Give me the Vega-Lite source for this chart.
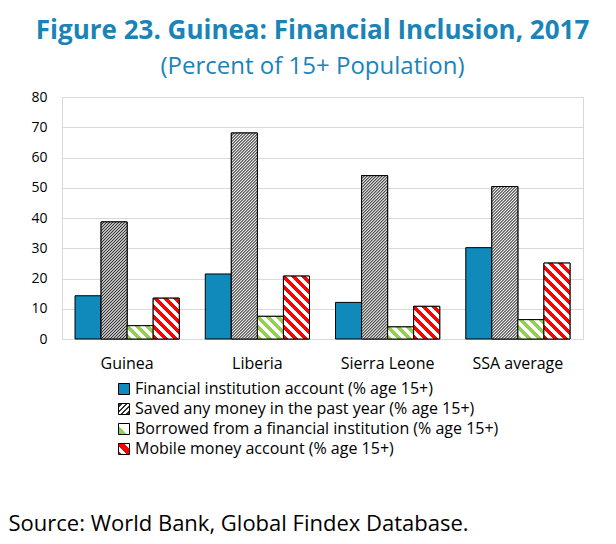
{
  "$schema": "https://vega.github.io/schema/vega-lite/v6.json",
  "width": 521,
  "height": 242,
  "autosize": {"type": "none"},
  "padding": {"left": 62, "top": 97, "right": 33, "bottom": 205},
  "background": "white",
  "params": [
    {"name": "savedStops", "value": [
      {"offset":0,"color":"#333"},{"offset":0.005,"color":"#fff"},{"offset":0.01,"color":"#333"},{"offset":0.015,"color":"#fff"},{"offset":0.02,"color":"#333"},{"offset":0.025,"color":"#fff"},{"offset":0.03,"color":"#333"},{"offset":0.035,"color":"#fff"},{"offset":0.04,"color":"#333"},{"offset":0.045,"color":"#fff"},
      {"offset":0.05,"color":"#333"},{"offset":0.055,"color":"#fff"},{"offset":0.06,"color":"#333"},{"offset":0.065,"color":"#fff"},{"offset":0.07,"color":"#333"},{"offset":0.075,"color":"#fff"},{"offset":0.08,"color":"#333"},{"offset":0.085,"color":"#fff"},{"offset":0.09,"color":"#333"},{"offset":0.095,"color":"#fff"},
      {"offset":0.1,"color":"#333"},{"offset":0.105,"color":"#fff"},{"offset":0.11,"color":"#333"},{"offset":0.115,"color":"#fff"},{"offset":0.12,"color":"#333"},{"offset":0.125,"color":"#fff"},{"offset":0.13,"color":"#333"},{"offset":0.135,"color":"#fff"},{"offset":0.14,"color":"#333"},{"offset":0.145,"color":"#fff"},
      {"offset":0.15,"color":"#333"},{"offset":0.155,"color":"#fff"},{"offset":0.16,"color":"#333"},{"offset":0.165,"color":"#fff"},{"offset":0.17,"color":"#333"},{"offset":0.175,"color":"#fff"},{"offset":0.18,"color":"#333"},{"offset":0.185,"color":"#fff"},{"offset":0.19,"color":"#333"},{"offset":0.195,"color":"#fff"},
      {"offset":0.2,"color":"#333"},{"offset":0.205,"color":"#fff"},{"offset":0.21,"color":"#333"},{"offset":0.215,"color":"#fff"},{"offset":0.22,"color":"#333"},{"offset":0.225,"color":"#fff"},{"offset":0.23,"color":"#333"},{"offset":0.235,"color":"#fff"},{"offset":0.24,"color":"#333"},{"offset":0.245,"color":"#fff"},
      {"offset":0.25,"color":"#333"},{"offset":0.255,"color":"#fff"},{"offset":0.26,"color":"#333"},{"offset":0.265,"color":"#fff"},{"offset":0.27,"color":"#333"},{"offset":0.275,"color":"#fff"},{"offset":0.28,"color":"#333"},{"offset":0.285,"color":"#fff"},{"offset":0.29,"color":"#333"},{"offset":0.295,"color":"#fff"},
      {"offset":0.3,"color":"#333"},{"offset":0.305,"color":"#fff"},{"offset":0.31,"color":"#333"},{"offset":0.315,"color":"#fff"},{"offset":0.32,"color":"#333"},{"offset":0.325,"color":"#fff"},{"offset":0.33,"color":"#333"},{"offset":0.335,"color":"#fff"},{"offset":0.34,"color":"#333"},{"offset":0.345,"color":"#fff"},
      {"offset":0.35,"color":"#333"},{"offset":0.355,"color":"#fff"},{"offset":0.36,"color":"#333"},{"offset":0.365,"color":"#fff"},{"offset":0.37,"color":"#333"},{"offset":0.375,"color":"#fff"},{"offset":0.38,"color":"#333"},{"offset":0.385,"color":"#fff"},{"offset":0.39,"color":"#333"},{"offset":0.395,"color":"#fff"},
      {"offset":0.4,"color":"#333"},{"offset":0.405,"color":"#fff"},{"offset":0.41,"color":"#333"},{"offset":0.415,"color":"#fff"},{"offset":0.42,"color":"#333"},{"offset":0.425,"color":"#fff"},{"offset":0.43,"color":"#333"},{"offset":0.435,"color":"#fff"},{"offset":0.44,"color":"#333"},{"offset":0.445,"color":"#fff"},
      {"offset":0.45,"color":"#333"},{"offset":0.455,"color":"#fff"},{"offset":0.46,"color":"#333"},{"offset":0.465,"color":"#fff"},{"offset":0.47,"color":"#333"},{"offset":0.475,"color":"#fff"},{"offset":0.48,"color":"#333"},{"offset":0.485,"color":"#fff"},{"offset":0.49,"color":"#333"},{"offset":0.495,"color":"#fff"},
      {"offset":0.5,"color":"#333"},{"offset":0.505,"color":"#fff"},{"offset":0.51,"color":"#333"},{"offset":0.515,"color":"#fff"},{"offset":0.52,"color":"#333"},{"offset":0.525,"color":"#fff"},{"offset":0.53,"color":"#333"},{"offset":0.535,"color":"#fff"},{"offset":0.54,"color":"#333"},{"offset":0.545,"color":"#fff"},
      {"offset":0.55,"color":"#333"},{"offset":0.555,"color":"#fff"},{"offset":0.56,"color":"#333"},{"offset":0.565,"color":"#fff"},{"offset":0.57,"color":"#333"},{"offset":0.575,"color":"#fff"},{"offset":0.58,"color":"#333"},{"offset":0.585,"color":"#fff"},{"offset":0.59,"color":"#333"},{"offset":0.595,"color":"#fff"},
      {"offset":0.6,"color":"#333"},{"offset":0.605,"color":"#fff"},{"offset":0.61,"color":"#333"},{"offset":0.615,"color":"#fff"},{"offset":0.62,"color":"#333"},{"offset":0.625,"color":"#fff"},{"offset":0.63,"color":"#333"},{"offset":0.635,"color":"#fff"},{"offset":0.64,"color":"#333"},{"offset":0.645,"color":"#fff"},
      {"offset":0.65,"color":"#333"},{"offset":0.655,"color":"#fff"},{"offset":0.66,"color":"#333"},{"offset":0.665,"color":"#fff"},{"offset":0.67,"color":"#333"},{"offset":0.675,"color":"#fff"},{"offset":0.68,"color":"#333"},{"offset":0.685,"color":"#fff"},{"offset":0.69,"color":"#333"},{"offset":0.695,"color":"#fff"},
      {"offset":0.7,"color":"#333"},{"offset":0.705,"color":"#fff"},{"offset":0.71,"color":"#333"},{"offset":0.715,"color":"#fff"},{"offset":0.72,"color":"#333"},{"offset":0.725,"color":"#fff"},{"offset":0.73,"color":"#333"},{"offset":0.735,"color":"#fff"},{"offset":0.74,"color":"#333"},{"offset":0.745,"color":"#fff"},
      {"offset":0.75,"color":"#333"},{"offset":0.755,"color":"#fff"},{"offset":0.76,"color":"#333"},{"offset":0.765,"color":"#fff"},{"offset":0.77,"color":"#333"},{"offset":0.775,"color":"#fff"},{"offset":0.78,"color":"#333"},{"offset":0.785,"color":"#fff"},{"offset":0.79,"color":"#333"},{"offset":0.795,"color":"#fff"},
      {"offset":0.8,"color":"#333"},{"offset":0.805,"color":"#fff"},{"offset":0.81,"color":"#333"},{"offset":0.815,"color":"#fff"},{"offset":0.82,"color":"#333"},{"offset":0.825,"color":"#fff"},{"offset":0.83,"color":"#333"},{"offset":0.835,"color":"#fff"},{"offset":0.84,"color":"#333"},{"offset":0.845,"color":"#fff"},
      {"offset":0.85,"color":"#333"},{"offset":0.855,"color":"#fff"},{"offset":0.86,"color":"#333"},{"offset":0.865,"color":"#fff"},{"offset":0.87,"color":"#333"},{"offset":0.875,"color":"#fff"},{"offset":0.88,"color":"#333"},{"offset":0.885,"color":"#fff"},{"offset":0.89,"color":"#333"},{"offset":0.895,"color":"#fff"},
      {"offset":0.9,"color":"#333"},{"offset":0.905,"color":"#fff"},{"offset":0.91,"color":"#333"},{"offset":0.915,"color":"#fff"},{"offset":0.92,"color":"#333"},{"offset":0.925,"color":"#fff"},{"offset":0.93,"color":"#333"},{"offset":0.935,"color":"#fff"},{"offset":0.94,"color":"#333"},{"offset":0.945,"color":"#fff"},
      {"offset":0.95,"color":"#333"},{"offset":0.955,"color":"#fff"},{"offset":0.96,"color":"#333"},{"offset":0.965,"color":"#fff"},{"offset":0.97,"color":"#333"},{"offset":0.975,"color":"#fff"},{"offset":0.98,"color":"#333"},{"offset":0.985,"color":"#fff"},{"offset":0.99,"color":"#333"},{"offset":0.995,"color":"#fff"},
      {"offset":1,"color":"#333"}
    ]},
    {"name": "greenStops", "value": [
      {"offset":0,"color":"#92d050"},{"offset":0.05,"color":"#92d050"},{"offset":0.05,"color":"#fff"},{"offset":0.1,"color":"#fff"},
      {"offset":0.1,"color":"#92d050"},{"offset":0.15,"color":"#92d050"},{"offset":0.15,"color":"#fff"},{"offset":0.2,"color":"#fff"},
      {"offset":0.2,"color":"#92d050"},{"offset":0.25,"color":"#92d050"},{"offset":0.25,"color":"#fff"},{"offset":0.3,"color":"#fff"},
      {"offset":0.3,"color":"#92d050"},{"offset":0.35,"color":"#92d050"},{"offset":0.35,"color":"#fff"},{"offset":0.4,"color":"#fff"},
      {"offset":0.4,"color":"#92d050"},{"offset":0.45,"color":"#92d050"},{"offset":0.45,"color":"#fff"},{"offset":0.5,"color":"#fff"},
      {"offset":0.5,"color":"#92d050"},{"offset":0.55,"color":"#92d050"},{"offset":0.55,"color":"#fff"},{"offset":0.6,"color":"#fff"},
      {"offset":0.6,"color":"#92d050"},{"offset":0.65,"color":"#92d050"},{"offset":0.65,"color":"#fff"},{"offset":0.7,"color":"#fff"},
      {"offset":0.7,"color":"#92d050"},{"offset":0.75,"color":"#92d050"},{"offset":0.75,"color":"#fff"},{"offset":0.8,"color":"#fff"},
      {"offset":0.8,"color":"#92d050"},{"offset":0.85,"color":"#92d050"},{"offset":0.85,"color":"#fff"},{"offset":0.9,"color":"#fff"},
      {"offset":0.9,"color":"#92d050"},{"offset":0.95,"color":"#92d050"},{"offset":0.95,"color":"#fff"},{"offset":1,"color":"#fff"}
    ]},
    {"name": "redStops", "value": [
      {"offset":0,"color":"#f00"},{"offset":0.05,"color":"#f00"},{"offset":0.05,"color":"#fff"},{"offset":0.1,"color":"#fff"},
      {"offset":0.1,"color":"#f00"},{"offset":0.15,"color":"#f00"},{"offset":0.15,"color":"#fff"},{"offset":0.2,"color":"#fff"},
      {"offset":0.2,"color":"#f00"},{"offset":0.25,"color":"#f00"},{"offset":0.25,"color":"#fff"},{"offset":0.3,"color":"#fff"},
      {"offset":0.3,"color":"#f00"},{"offset":0.35,"color":"#f00"},{"offset":0.35,"color":"#fff"},{"offset":0.4,"color":"#fff"},
      {"offset":0.4,"color":"#f00"},{"offset":0.45,"color":"#f00"},{"offset":0.45,"color":"#fff"},{"offset":0.5,"color":"#fff"},
      {"offset":0.5,"color":"#f00"},{"offset":0.55,"color":"#f00"},{"offset":0.55,"color":"#fff"},{"offset":0.6,"color":"#fff"},
      {"offset":0.6,"color":"#f00"},{"offset":0.65,"color":"#f00"},{"offset":0.65,"color":"#fff"},{"offset":0.7,"color":"#fff"},
      {"offset":0.7,"color":"#f00"},{"offset":0.75,"color":"#f00"},{"offset":0.75,"color":"#fff"},{"offset":0.8,"color":"#fff"},
      {"offset":0.8,"color":"#f00"},{"offset":0.85,"color":"#f00"},{"offset":0.85,"color":"#fff"},{"offset":0.9,"color":"#fff"},
      {"offset":0.9,"color":"#f00"},{"offset":0.95,"color":"#f00"},{"offset":0.95,"color":"#fff"},{"offset":1,"color":"#fff"}
    ]}
  ],
  "title": {
    "text": "Figure 23. Guinea: Financial Inclusion, 2017",
    "subtitle": "(Percent of 15+ Population)",
    "anchor": "middle",
    "frame": "group",
    "dx": -10,
    "offset": 11,
    "font": "Open Sans",
    "fontSize": 26,
    "fontWeight": "bold",
    "color": "#1a84b8",
    "subtitleFont": "Open Sans",
    "subtitleFontSize": 24,
    "subtitleColor": "#1a84b8",
    "subtitlePadding": 11
  },
  "config": {
    "view": {"stroke": "#d9d9d9", "strokeWidth": 1}
  },
  "data": {
    "values": [
      {"country": "Guinea", "series": "Financial institution account (% age 15+)", "value": 14.3},
      {"country": "Guinea", "series": "Saved any money in the past year (% age 15+)", "value": 38.7},
      {"country": "Guinea", "series": "Borrowed from a financial institution (% age 15+)", "value": 4.4},
      {"country": "Guinea", "series": "Mobile money account (% age 15+)", "value": 13.5},
      {"country": "Liberia", "series": "Financial institution account (% age 15+)", "value": 21.5},
      {"country": "Liberia", "series": "Saved any money in the past year (% age 15+)", "value": 68.1},
      {"country": "Liberia", "series": "Borrowed from a financial institution (% age 15+)", "value": 7.5},
      {"country": "Liberia", "series": "Mobile money account (% age 15+)", "value": 20.8},
      {"country": "Sierra Leone", "series": "Financial institution account (% age 15+)", "value": 12.1},
      {"country": "Sierra Leone", "series": "Saved any money in the past year (% age 15+)", "value": 54.0},
      {"country": "Sierra Leone", "series": "Borrowed from a financial institution (% age 15+)", "value": 4.0},
      {"country": "Sierra Leone", "series": "Mobile money account (% age 15+)", "value": 10.8},
      {"country": "SSA average", "series": "Financial institution account (% age 15+)", "value": 30.2},
      {"country": "SSA average", "series": "Saved any money in the past year (% age 15+)", "value": 50.4},
      {"country": "SSA average", "series": "Borrowed from a financial institution (% age 15+)", "value": 6.4},
      {"country": "SSA average", "series": "Mobile money account (% age 15+)", "value": 25.1}
    ]
  },
  "encoding": {
    "x": {
      "field": "country", "type": "nominal", "sort": null,
      "scale": {"paddingInner": 0.2, "paddingOuter": 0.1},
      "axis": {
        "domain": false, "ticks": false, "labelAngle": 0, "labelPadding": 16,
        "labelFont": "Open Sans", "labelFontSize": 16, "labelColor": "#000",
        "title": "Source: World Bank, Global Findex Database.",
        "titleFont": "Open Sans", "titleFontSize": 22, "titleFontWeight": "normal", "titleColor": "#000",
        "titleAlign": "left", "titleAnchor": "start", "titleX": -54, "titleY": 191, "titleBaseline": "alphabetic"
      }
    },
    "xOffset": {
      "field": "series", "type": "nominal", "sort": null,
      "scale": {"domain": ["Financial institution account (% age 15+)", "Saved any money in the past year (% age 15+)", "Borrowed from a financial institution (% age 15+)", "Mobile money account (% age 15+)"], "paddingInner": 0, "paddingOuter": 0}
    },
    "y": {
      "field": "value", "type": "quantitative",
      "scale": {"domain": [0, 80], "nice": false},
      "axis": {
        "values": [0, 10, 20, 30, 40, 50, 60, 70, 80],
        "grid": true, "gridColor": "#d9d9d9", "gridWidth": 1,
        "domain": false, "ticks": false, "labelPadding": 15,
        "labelFont": "Open Sans", "labelFontSize": 14, "labelColor": "#000",
        "title": null
      }
    }
  },
  "layer": [
    {
      "mark": {"type": "bar", "stroke": "#000", "strokeWidth": 1},
      "encoding": {
        "fill": {
          "field": "series", "type": "nominal", "sort": null,
          "scale": {
            "domain": ["Financial institution account (% age 15+)", "Saved any money in the past year (% age 15+)", "Borrowed from a financial institution (% age 15+)", "Mobile money account (% age 15+)"],
            "range": [
              "#108aba",
              {"expr": "{gradient:'linear',x1:0,y1:0,x2:1,y2:1,stops:[{offset:0,color:'#333'},{offset:0.22,color:'#333'},{offset:0.22,color:'#fff'},{offset:0.32,color:'#fff'},{offset:0.32,color:'#333'},{offset:0.45,color:'#333'},{offset:0.45,color:'#fff'},{offset:0.55,color:'#fff'},{offset:0.55,color:'#333'},{offset:0.68,color:'#333'},{offset:0.68,color:'#fff'},{offset:0.78,color:'#fff'},{offset:0.78,color:'#333'},{offset:1,color:'#333'}]}"},
              {"expr": "{gradient:'linear',x1:0,y1:1,x2:1,y2:0,stops:[{offset:0,color:'#92d050'},{offset:0.4,color:'#92d050'},{offset:0.4,color:'#fff'},{offset:1,color:'#fff'}]}"},
              {"expr": "{gradient:'linear',x1:0,y1:1,x2:1,y2:0,stops:[{offset:0,color:'#f00'},{offset:0.15,color:'#f00'},{offset:0.15,color:'#fff'},{offset:0.4,color:'#fff'},{offset:0.4,color:'#f00'},{offset:0.75,color:'#f00'},{offset:0.75,color:'#fff'},{offset:1,color:'#fff'}]}"}
            ]
          },
          "legend": {
            "orient": "none", "legendX": 54, "legendY": 284, "title": null, "direction": "vertical",
            "symbolType": "square", "symbolSize": 121, "symbolStrokeColor": "#000", "symbolStrokeWidth": 1,
            "labelFont": "Open Sans", "labelFontSize": 16, "labelColor": "#000", "labelOffset": 3,
            "rowPadding": 4, "padding": 0, "labelLimit": 0
          }
        }
      }
    },
    {
      "transform": [{"filter": "datum.series != 'Financial institution account (% age 15+)'"}],
      "mark": {"type": "bar", "stroke": "#000", "strokeWidth": 1},
      "encoding": {
        "fill": {"value": {"expr": "indexof(datum.series,'Saved')==0 ? {gradient:'linear',x1:0,y1:0,x2:300*bandwidth('xOffset')/(pow(bandwidth('xOffset'),2)+pow(scale('y',0)-scale('y',datum.value),2)),y2:300*(scale('y',0)-scale('y',datum.value))/(pow(bandwidth('xOffset'),2)+pow(scale('y',0)-scale('y',datum.value),2)),stops:savedStops} : {gradient:'linear',x1:0,y1:1,x2:100*bandwidth('xOffset')/(pow(bandwidth('xOffset'),2)+pow(scale('y',0)-scale('y',datum.value),2)),y2:1-100*(scale('y',0)-scale('y',datum.value))/(pow(bandwidth('xOffset'),2)+pow(scale('y',0)-scale('y',datum.value),2)),stops:indexof(datum.series,'Borrowed')==0 ? greenStops : redStops}"}}
      }
    }
  ]
}
